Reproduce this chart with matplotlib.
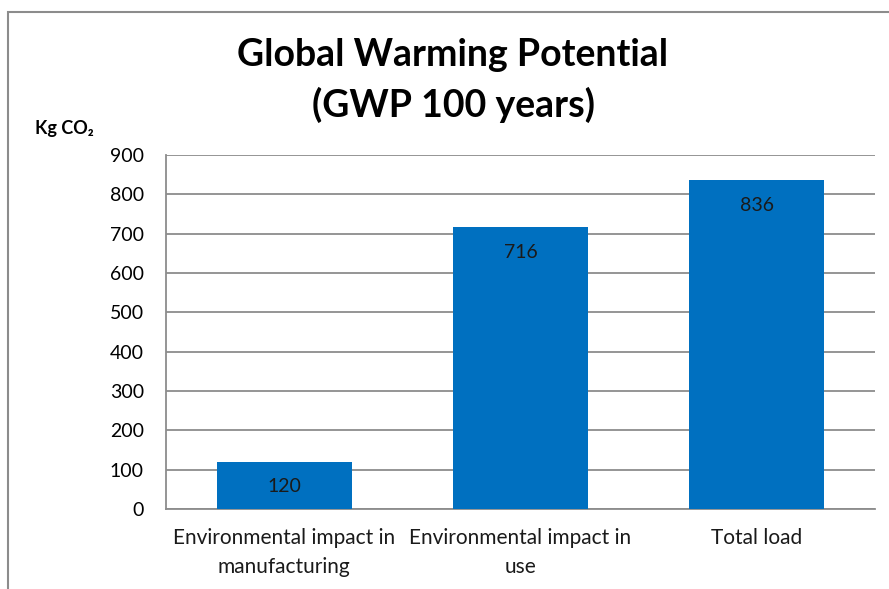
import matplotlib.pyplot as plt
from matplotlib.patches import Rectangle

categories = ["Environmental impact in\nmanufacturing", "Environmental impact in\nuse", "Total load"]
values = [120, 716, 836]
yticks = [0, 100, 200, 300, 400, 500, 600, 700, 800, 900]

FONT = ["Lato", "DejaVu Sans"]
plt.rcParams["font.family"] = FONT

fig = plt.figure(figsize=(8.89, 5.89), dpi=100)
W, H = 889, 589

# chart frame (cropped on right and bottom)
fig.patches.append(Rectangle((8 / W, -0.1), 2, 1.1 - 12 / H, transform=fig.transFigure,
                             fill=False, edgecolor="#8c8c8c", linewidth=1.5))

ax = fig.add_axes([166 / W, 1 - 509 / H, (875 - 166) / W, (509 - 155) / H])
x = range(len(categories))
bars = ax.bar(x, values, width=0.57, color="#0070C0", zorder=3)

for b, v in zip(bars, values):
    ax.annotate(str(v), (b.get_x() + b.get_width() / 2, v), xytext=(0, -18),
                textcoords="offset points", ha="center", va="center",
                fontsize=14, color="#1a1a1a", zorder=4)

ax.set_xlim(-0.5, 2.5)
ax.set_ylim(0, 900)
ax.set_yticks(yticks)
ax.yaxis.grid(True, color="#8c8c8c", linewidth=1.3, zorder=0)
ax.set_xticks(list(x))
ax.set_xticklabels(categories, fontsize=15, color="#1a1a1a", linespacing=1.55)
ax.tick_params(axis="y", labelsize=14, length=0, pad=16)
ax.tick_params(axis="x", length=0, pad=14)
for s in ["top", "right"]:
    ax.spines[s].set_visible(False)
for s in ["left", "bottom"]:
    ax.spines[s].set_color("#8c8c8c")
    ax.spines[s].set_linewidth(1.3)

fig.text(453 / W, 1 - 55 / H, "Global Warming Potential", ha="center", va="center",
         fontsize=27, fontweight="bold")
fig.text(453 / W, 1 - 105 / H, "(GWP 100 years)", ha="center", va="center",
         fontsize=27, fontweight="bold")
fig.text(35 / W, 1 - 128 / H, "Kg CO₂", ha="left", va="center", fontsize=13,
         fontweight="bold")

fig.savefig("out.png", dpi=100)
